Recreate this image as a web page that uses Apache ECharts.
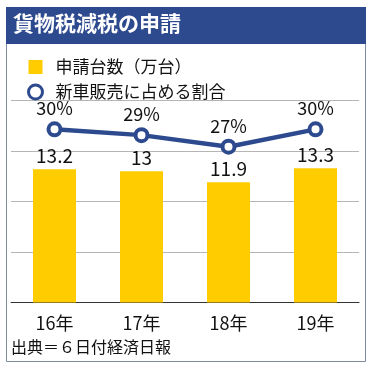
<!DOCTYPE html>
<html><head><meta charset="utf-8">
<script src="https://cdn.jsdelivr.net/npm/echarts@6/dist/echarts.min.js"></script>
<style>html,body{margin:0;padding:0;background:#fff}#c{width:374px;height:370px}</style>
</head><body><div id="c"></div>
<script>
const titleText = '貨物税減税の申請';
const sourceText = '出典＝６日付経済日報';
const categories = ['16年', '17年', '18年', '19年'];
const barName = '申請台数（万台）';
const barValues = [13.2, 13, 11.9, 13.3];
const lineName = '新車販売に占める割合';
const lineValues = [30, 29, 27, 30];

const FONT = '"Noto Sans CJK JP", "Noto Sans", sans-serif';
const BLUE = '#2d4a8f';
const YELLOW = '#ffcc00';

const chart = echarts.init(document.getElementById('c'), null, {renderer: 'canvas'});
chart.setOption({
  animation: false,
  textStyle: {fontFamily: FONT},
  graphic: [
    {type: 'rect', z: 0, shape: {x: 6.5, y: 7.5, width: 359, height: 354}, style: {fill: '#fff', stroke: '#7d8ba3', lineWidth: 1}},
    {type: 'rect', z: 1, shape: {x: 6, y: 7, width: 360, height: 37}, style: {fill: BLUE}},
    {type: 'text', z: 2, left: 13, top: 13, style: {text: titleText, fill: '#fff', font: 'bold 21px ' + FONT}},
    {type: 'text', z: 2, left: 11, top: 339, style: {text: sourceText, fill: '#111', font: '16px ' + FONT}}
  ],
  legend: {
    orient: 'vertical', left: 22, top: 52, itemWidth: 14, itemHeight: 14, itemGap: 5,
    textStyle: {fontSize: 17, color: '#111', fontFamily: FONT, lineHeight: 20, padding: [0, 0, 0, 8]},
    data: [
      {name: barName, icon: 'rect', itemStyle: {color: YELLOW}},
      {name: lineName, icon: 'circle', itemStyle: {color: '#fff', borderColor: BLUE, borderWidth: 3}}
    ]
  },
  grid: {left: 11, right: 15, top: 100.5, bottom: 67.5, containLabel: false},
  xAxis: {
    type: 'category', data: categories,
    axisLine: {lineStyle: {color: '#333', width: 1}},
    axisTick: {show: false},
    axisLabel: {fontSize: 18, color: '#111', margin: 12, fontFamily: FONT}
  },
  yAxis: [
    {type: 'value', min: 0, max: 20, interval: 5, axisLabel: {show: false}, axisLine: {show: false}, axisTick: {show: false},
     splitLine: {lineStyle: {color: '#b5b5b5', width: 1}}},
    {type: 'value', min: 0, max: 35, axisLabel: {show: false}, axisLine: {show: false}, axisTick: {show: false}, splitLine: {show: false}}
  ],
  series: [
    {name: barName, type: 'bar', data: barValues, barWidth: 43, itemStyle: {color: YELLOW},
     label: {show: true, position: 'top', distance: 4, fontSize: 19, color: '#111', fontFamily: FONT}},
    {name: lineName, type: 'line', yAxisIndex: 1, data: lineValues, symbol: 'circle', symbolSize: 12,
     lineStyle: {color: BLUE, width: 4.5}, itemStyle: {color: '#fff', borderColor: BLUE, borderWidth: 4},
     label: {show: true, position: 'top', distance: 4, fontSize: 18, color: '#111', fontFamily: FONT, formatter: '{c}%'}, z: 5}
  ]
});
</script></body></html>
